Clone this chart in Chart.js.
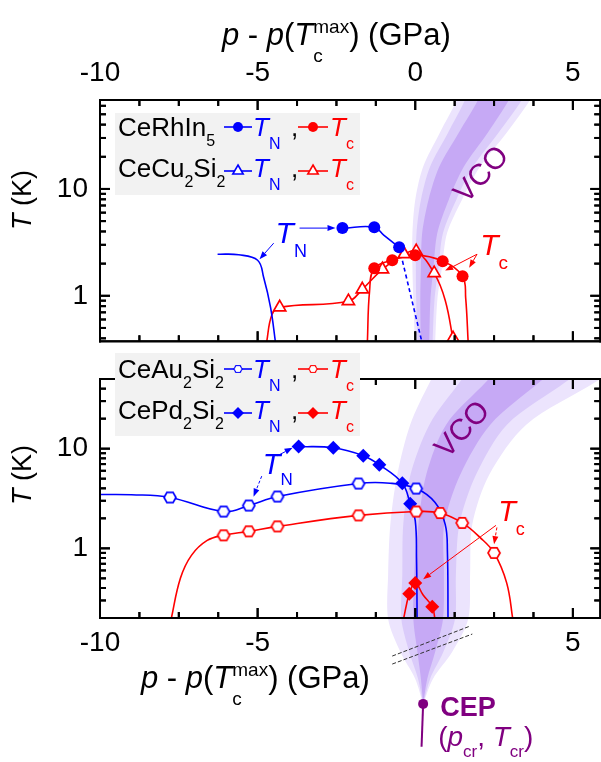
<!DOCTYPE html>
<html lang="en">
<head>
<meta charset="UTF-8">
<title>T vs p - p(Tc max)</title>
<script src="https://cdn.jsdelivr.net/npm/chart.js@4.4.1/dist/chart.umd.min.js"></script>
<style>
  body { margin: 0; background: #fff; }
  #wrap { position: relative; width: 601px; height: 762px; overflow: hidden; }
  canvas { position: absolute; left: 0; }
  #top { top: 0; }
  #bottom { top: 345px; }
</style>
</head>
<body>
<div id="wrap">
  <canvas id="top" width="609" height="350"></canvas>
  <canvas id="bottom" width="608" height="417"></canvas>
</div>
<script>
// ---- top panel: CeRhIn5 (circles) and CeCu2Si2 (triangles) ----
const rhTnP = [-2.31, -1.30, -0.51];
const rhTnT = [4.30, 4.39, 2.85];
const rhTcP = [-1.30, -0.73, 0.00, 0.87, 1.50];
const rhTcT = [1.81, 2.15, 2.40, 2.11, 1.52];
const cuTcP = [-4.30, -2.12, -1.68, -1.04, -0.35, 0.03, 0.60, 1.20];
const cuTcT = [0.78, 0.89, 1.15, 1.77, 2.45, 2.62, 1.63, 0.40];
// guide lines
const rhTnCurveP = [-2.31, -1.30, -1.00, -0.51];
const rhTnCurveT = [4.30, 4.39, 3.70, 2.85];
const rhTnDashP = [-0.51, 0.22];
const rhTnDashT = [2.85, 0.36];
const cuTnCurveP = [-6.27, -5.60, -5.00, -4.81, -4.59, -4.43];
const cuTnCurveT = [2.45, 2.42, 2.15, 1.49, 0.78, 0.36];
const rhTcCurveP = [-1.52, -1.45, -1.30, -0.73, 0.00, 0.87, 1.50, 1.60, 1.68];
const rhTcCurveT = [0.36, 1.10, 1.81, 2.15, 2.40, 2.11, 1.52, 0.95, 0.36];
const cuTcCurveP = [-4.72, -4.55, -4.30, -2.12, -1.68, -1.04, -0.35, 0.03, 0.60, 0.95, 1.22];
const cuTcCurveT = [0.36, 0.66, 0.78, 0.89, 1.15, 1.77, 2.45, 2.62, 1.63, 0.91, 0.36];
// VCO band (T, centre, half widths of the three shades)
const topBandT = [0.30, 0.91, 1.85, 3.86, 7.9, 16.1, 33.6, 68, 120];
const topBandP = [0.31, 0.32, 0.38, 0.46, 0.74, 1.15, 1.84, 2.48, 2.85];
const topHalfOuter = [0.31, 0.38, 0.47, 0.55, 0.74, 0.90, 1.06, 1.16, 1.20];
const topHalfMid = [0.23, 0.29, 0.36, 0.42, 0.56, 0.68, 0.80, 0.90, 0.93];
const topHalfInner = [0.13, 0.16, 0.20, 0.24, 0.32, 0.39, 0.46, 0.49, 0.52];

// ---- bottom panel: CeAu2Si2 (hexagons) and CePd2Si2 (diamonds) ----
const auTnP = [-7.78, -6.08, -5.28, -4.37, -1.80, 0.03];
const auTnT = [3.24, 2.34, 2.69, 3.31, 4.47, 3.98];
const auTcP = [-6.08, -5.28, -4.37, -1.80, 0.03, 0.79, 1.49, 2.50];
const auTcT = [1.35, 1.48, 1.66, 2.14, 2.34, 2.26, 1.80, 0.90];
const pdTnP = [-3.70, -2.60, -1.65, -1.14, -0.41, -0.16];
const pdTnT = [10.5, 10.2, 8.5, 6.9, 4.5, 2.8];
const pdTcP = [-0.19, 0.00, 0.54];
const pdTcT = [0.35, 0.45, 0.26];
const auTnCurveP = [-10.0, -9.0, -7.78, -6.08, -5.28, -4.37, -1.80, -0.80, 0.03, 0.63, 0.95, 1.02, 1.04];
const auTnCurveT = [3.47, 3.45, 3.24, 2.34, 2.69, 3.31, 4.47, 4.50, 3.98, 2.88, 1.74, 0.93, 0.19];
const pdTnCurveP = [-3.70, -2.60, -1.65, -1.14, -0.41, -0.16, 0.00, 0.04, 0.06];
const pdTnCurveT = [10.5, 10.2, 8.5, 6.9, 4.5, 2.8, 1.9, 0.8, 0.19];
const auTcCurveP = [-7.75, -7.45, -7.10, -6.60, -6.08, -5.28, -4.37, -1.80, 0.03, 0.79, 1.49, 2.05, 2.50, 2.90, 3.10];
const auTcCurveT = [0.19, 0.50, 0.85, 1.20, 1.35, 1.48, 1.66, 2.14, 2.34, 2.26, 1.80, 1.29, 0.90, 0.45, 0.19];
const pdTcCurveP = [-0.38, -0.19, 0.00, 0.25, 0.54, 0.63];
const pdTcCurveT = [0.19, 0.35, 0.45, 0.34, 0.26, 0.19];
const botBandT = [0.0275, 0.049, 0.091, 0.195, 0.55, 1.74, 5.5, 17.4, 46.8, 90];
const botBandP = [0.25, 0.28, 0.35, 0.41, 0.44, 0.51, 0.89, 1.68, 3.10, 4.00];
const botHalfOuter = [0, 0.28, 0.82, 1.27, 1.30, 1.30, 1.46, 1.84, 2.63, 3.00];
const botHalfMid = [0, 0.19, 0.54, 0.85, 0.85, 0.89, 1.04, 1.23, 1.68, 1.90];
const botHalfInner = [0, 0.10, 0.28, 0.47, 0.47, 0.41, 0.54, 0.70, 0.85, 0.95];
// critical end point
const cepP = [0.25];
const cepT = [0.0275];
const cepStemP = [0.25, 0.20];
const cepStemT = [0.0275, 0.0102];

(() => {
  const X_MIN = -10, X_MAX = 5.87, X_STEP = 1.25;
  const FONT = '"Liberation Sans", Arial, sans-serif';
  const BLUE = '#0000ff', RED = '#ff0000', PURPLE = '#800080';
  const BAND = ['#ece4fd', '#dacbfa', '#c6a9f5'];
  Chart.defaults.font.family = FONT;

  const pts = (ps, ts) => ps.map((p, i) => ({ x: p, y: ts[i] }));

  function hexImage(color, r, lw) {
    const c = document.createElement('canvas');
    const s = Math.ceil(2 * r + lw + 2);
    c.width = c.height = s;
    const g = c.getContext('2d');
    g.beginPath();
    for (let k = 0; k < 6; k++) {
      const a = k * Math.PI / 3;
      g.lineTo(s / 2 + r * Math.cos(a), s / 2 + r * Math.sin(a));
    }
    g.closePath();
    g.fillStyle = '#fff'; g.fill();
    g.lineWidth = lw; g.strokeStyle = color; g.stroke();
    return c;
  }
  const hexBlue = hexImage(BLUE, 6, 1.7);
  const hexRed = hexImage(RED, 6, 1.7);

  function bandSets(ts, mid, halves) {
    return halves.map((h, k) => {
      const left = ts.map((t, i) => ({ x: mid[i] - h[i], y: t }));
      const right = ts.map((t, i) => ({ x: mid[i] + h[i], y: t })).reverse();
      return {
        data: left.concat(right), fill: 'shape', backgroundColor: BAND[k],
        borderColor: 'rgba(0,0,0,0)', borderWidth: 1, pointRadius: 0,
        tension: 0.3, capBezierPoints: false, order: 10 - k, isBand: true
      };
    });
  }
  const curve = (ps, ts, color, dash) => ({
    data: pts(ps, ts), borderColor: color, borderWidth: 1.6, pointRadius: 0,
    tension: 0.4, fill: false, borderDash: dash || [], order: 3
  });
  const marks = (ps, ts, color, style, filled, r) => ({
    data: pts(ps, ts), showLine: false, pointStyle: style, pointRadius: r,
    pointBackgroundColor: filled ? color : '#fff', pointBorderColor: color,
    pointBorderWidth: filled ? 0 : 1.7, order: 1
  });

  function axes(pos, yMin, yMax, xHeight, xPad) {
    return {
      x: {
        type: 'linear', position: pos, min: X_MIN, max: X_MAX, z: 1,
        grid: { display: false, drawTicks: false }, border: { display: true, color: '#000', width: 2 },
        ticks: {
          stepSize: X_STEP, includeBounds: false, autoSkip: false, maxRotation: 0,
          padding: xPad, color: '#000', font: { size: 28 },
          callback: v => (v % 5 === 0 ? String(v) : '')
        },
        afterFit: s => { s.height = xHeight; s.paddingLeft = 0; s.paddingRight = 0; }
      },
      y: {
        type: 'logarithmic', min: yMin, max: yMax,
        grid: { display: false, drawTicks: false }, border: { display: true, color: '#000', width: 2 },
        ticks: {
          autoSkip: false, padding: 12, color: '#000', font: { size: 28 },
          callback: v => (v === 1 || v === 10 ? String(v) : '')
        },
        afterFit: s => { s.width = 100; s.paddingTop = 0; s.paddingBottom = 0; }
      }
    };
  }

  // text with italic / sub / superscript pieces: [text, style, sizeFactor, baselineShift]
  function richText(ctx, x, y, size, color, segs, measureOnly) {
    let cx = x;
    ctx.save();
    ctx.fillStyle = color; ctx.textAlign = 'left'; ctx.textBaseline = 'alphabetic';
    for (const [t, st = '', k = 1, dy = 0] of segs) {
      ctx.font = (st ? st + ' ' : '') + Math.round(size * k) + 'px ' + FONT;
      if (Array.isArray(t)) {
        t.forEach((s, j) => { if (!measureOnly) ctx.fillText(s, cx, y + dy[j] * size); });
        cx += Math.max(...t.map(s => ctx.measureText(s).width));
      } else {
        if (!measureOnly) ctx.fillText(t, cx, y + dy * size);
        cx += ctx.measureText(t).width;
      }
    }
    ctx.restore();
    return cx - x;
  }

  const xTitle = [['p', 'italic'], [' - '], ['p', 'italic'], ['('], ['T', 'italic'],
    [['max', 'c'], '', 0.62, [-0.4, 0.55]], [') (GPa)']];

  function yTitleText(ctx, x, cy) {
    const segs = [['T', 'italic'], [' (K)']];
    ctx.save();
    ctx.translate(x, cy);
    ctx.rotate(-Math.PI / 2);
    const w = richText(ctx, 0, 0, 27, '#000', segs, true);
    richText(ctx, -w / 2, 0, 27, '#000', segs);
    ctx.restore();
  }

  function vcoText(ctx, cx, cy) {
    ctx.save();
    ctx.translate(cx, cy);
    ctx.rotate(-47 * Math.PI / 180);
    ctx.font = '30px ' + FONT;
    ctx.fillStyle = PURPLE; ctx.textAlign = 'center'; ctx.textBaseline = 'middle';
    ctx.fillText('VCO', 0, 0);
    ctx.restore();
  }

  function arrowLine(ctx, a, b, color, dashed) {
    const [x1, y1] = a, [x2, y2] = b;
    const ang = Math.atan2(y2 - y1, x2 - x1), h = 8, w = 3;
    const c = Math.cos(ang), s = Math.sin(ang);
    ctx.save();
    ctx.strokeStyle = color; ctx.fillStyle = color; ctx.lineWidth = 1;
    if (dashed) ctx.setLineDash([3, 2]);
    ctx.beginPath(); ctx.moveTo(x1, y1); ctx.lineTo(x2 - h * c, y2 - h * s); ctx.stroke();
    ctx.setLineDash([]);
    ctx.beginPath();
    ctx.moveTo(x2, y2);
    ctx.lineTo(x2 - h * c + w * s, y2 - h * s - w * c);
    ctx.lineTo(x2 - h * c - w * s, y2 - h * s + w * c);
    ctx.closePath(); ctx.fill();
    ctx.restore();
  }

  function legendSample(ctx, x1, x2, y, color, mark) {
    ctx.save();
    ctx.strokeStyle = color; ctx.fillStyle = mark.filled ? color : '#fff'; ctx.lineWidth = 1.6;
    ctx.beginPath(); ctx.moveTo(x1, y); ctx.lineTo(x2, y); ctx.stroke();
    const xm = (x1 + x2) / 2;
    if (mark.img) {
      const img = color === BLUE ? hexBlue : hexRed;
      ctx.drawImage(img, xm - 5.5, y - 5.5, 11, 11);
    } else {
      Chart.helpers.drawPoint(ctx, { pointStyle: mark.style, radius: mark.r, rotation: 0, borderWidth: mark.filled ? 0 : 1.6 }, xm, y);
    }
    ctx.restore();
  }

  function legendRow(ctx, base, ly, name, mark) {
    richText(ctx, 118, base, 26, '#000', name);
    legendSample(ctx, 224, 252, ly, BLUE, mark);
    richText(ctx, 253, base, 26, BLUE, [['T', 'italic'], ['N', '', 0.6, 0.5]]);
    richText(ctx, 291, base, 26, '#000', [[',']]);
    legendSample(ctx, 298, 328, ly, RED, mark);
    richText(ctx, 330, base, 26, RED, [['T', 'italic'], ['c', '', 0.62, 0.5]]);
  }

  // box round the plot with inward ticks on all four sides
  function plotBox(chart) {
    const ctx = chart.ctx, a = chart.chartArea;
    const xs = chart.scales.x, ys = chart.scales.y;
    ctx.save();
    ctx.fillStyle = '#000';
    ctx.fillRect(a.left - 1, a.top - 1, a.right - a.left + 2, 2);
    ctx.fillRect(a.left - 1, a.bottom - 1, a.right - a.left + 2, 2);
    ctx.fillRect(a.left - 1, a.top - 1, 2, a.bottom - a.top + 2);
    ctx.fillRect(a.right - 1, a.top - 1, 2, a.bottom - a.top + 2);
    for (let v = X_MIN; v <= X_MAX + 1e-9; v += X_STEP) {
      const px = xs.getPixelForValue(v), len = v % 5 === 0 ? 10 : 6;
      ctx.fillRect(px - 1, a.top, 2, len);
      ctx.fillRect(px - 1, a.bottom - len, 2, len);
    }
    const e0 = Math.floor(Math.log10(ys.min)), e1 = Math.ceil(Math.log10(ys.max));
    for (let e = e0; e <= e1; e++) {
      for (let s = 1; s <= 9; s++) {
        const v = s * Math.pow(10, e);
        if (v < ys.min || v > ys.max) continue;
        const py = ys.getPixelForValue(v), len = s === 1 ? 10 : 6;
        ctx.fillRect(a.left, py - 1, len, 2);
        ctx.fillRect(a.right - len, py - 1, len, 2);
      }
    }
    ctx.restore();
  }

  const at = (chart, p, t) => [chart.scales.x.getPixelForValue(p), chart.scales.y.getPixelForValue(t)];

  // band part that continues below the bottom axis down to the CEP
  const wedgePlugin = {
    id: 'wedge',
    beforeDatasetsDraw(chart) {
      const { ctx, chartArea: a } = chart;
      chart.data.datasets.forEach((ds, i) => {
        if (!ds.isBand) return;
        const line = chart.getDatasetMeta(i).dataset;
        line.updateControlPoints(a, 'x');
        ctx.save();
        ctx.beginPath();
        ctx.rect(a.left, a.bottom, a.right - a.left, chart.height - a.bottom);
        ctx.clip();
        ctx.beginPath();
        line.path(ctx);
        ctx.closePath();
        ctx.fillStyle = ds.backgroundColor;
        ctx.fill();
        ctx.restore();
      });
    }
  };

  const topDeco = {
    id: 'topDeco',
    afterDatasetsDraw(chart) { plotBox(chart); },
    afterDraw(chart) {
      const ctx = chart.ctx;
      richText(ctx, 222, 45, 31, '#000', xTitle);
      yTitleText(ctx, 31, 200);
      vcoText(ctx, 482, 175);
      const tn = at(chart, -4.43, 3.11);
      richText(ctx, tn[0], tn[1], 30, BLUE, [['T', 'italic'], ['N', '', 0.6, 0.45]]);
      arrowLine(ctx, at(chart, -3.67, 4.30), at(chart, -2.53, 4.30), BLUE);
      arrowLine(ctx, at(chart, -4.49, 3.11), at(chart, -4.94, 2.20), BLUE);
      const tc = at(chart, 2.06, 2.40);
      richText(ctx, tc[0], tc[1], 30, RED, [['T', 'italic'], ['c', '', 0.62, 0.45]]);
      arrowLine(ctx, at(chart, 1.96, 2.45), at(chart, 0.95, 1.72), RED);
      arrowLine(ctx, at(chart, 1.96, 2.45), at(chart, 1.71, 1.83), RED);
      plotBox(chart);
      ctx.save();
      ctx.fillStyle = '#f2f2f2';
      ctx.fillRect(115, 113, 245, 82);
      ctx.restore();
      legendRow(ctx, 136, 127, [['CeRhIn'], ['5', '', 0.62, 0.4]], { style: 'circle', r: 5, filled: true });
      legendRow(ctx, 177, 171, [['CeCu'], ['2', '', 0.62, 0.4], ['Si'], ['2', '', 0.62, 0.4]], { style: 'triangle', r: 6, filled: false });
    }
  };

  const bottomDeco = {
    id: 'bottomDeco',
    afterDatasetsDraw(chart) { plotBox(chart); },
    afterDraw(chart) {
      const ctx = chart.ctx;
      richText(ctx, 141, 343, 31, '#000', xTitle);
      yTitleText(ctx, 31, 130);
      vcoText(ctx, 463, 85);
      const tn = at(chart, -4.84, 5.6);
      richText(ctx, tn[0], tn[1], 29, BLUE, [['T', 'italic'], ['N', '', 0.6, 0.4]]);
      arrowLine(ctx, at(chart, -4.37, 8.5), at(chart, -3.89, 10.2), BLUE);
      arrowLine(ctx, at(chart, -4.87, 5.3), at(chart, -5.13, 3.3), BLUE, true);
      const tc = at(chart, 2.63, 1.86);
      richText(ctx, tc[0], tc[1], 29, RED, [['T', 'italic'], ['c', '', 0.62, 0.45]]);
      arrowLine(ctx, at(chart, 2.56, 1.70), at(chart, 0.25, 0.49), RED);
      arrowLine(ctx, at(chart, 2.59, 1.62), at(chart, 2.50, 1.10), RED, true);
      // axis break marks
      ctx.save();
      ctx.strokeStyle = '#333'; ctx.lineWidth = 1; ctx.setLineDash([4, 2]);
      [[[-0.73, 0.083], [1.74, 0.166]], [[-0.73, 0.069], [1.81, 0.138]]].forEach(([p, q]) => {
        const a = at(chart, p[0], p[1]), b = at(chart, q[0], q[1]);
        ctx.beginPath(); ctx.moveTo(a[0], a[1]); ctx.lineTo(b[0], b[1]); ctx.stroke();
      });
      ctx.restore();
      // critical end point marker (outside the plot area)
      const c = at(chart, cepP[0], cepT[0]);
      ctx.save();
      ctx.fillStyle = PURPLE;
      ctx.beginPath(); ctx.arc(c[0], c[1], 5, 0, 2 * Math.PI); ctx.fill();
      ctx.restore();
      richText(ctx, c[0] + 17, c[1] + 12, 27, PURPLE, [['CEP', 'bold']]);
      richText(ctx, c[0] + 15, c[1] + 42, 28, PURPLE, [['('], ['p', 'italic'], ['cr', '', 0.6, 0.4],
        [', '], ['T', 'italic'], ['cr', '', 0.6, 0.4], [')']]);
      plotBox(chart);
      // legend sits on top of the upper frame line
      ctx.save();
      ctx.fillStyle = '#f2f2f2';
      ctx.fillRect(115, 8, 245, 83);
      ctx.restore();
      legendRow(ctx, 33, 24, [['CeAu'], ['2', '', 0.62, 0.4], ['Si'], ['2', '', 0.62, 0.4]], { img: true, filled: false });
      legendRow(ctx, 74, 68, [['CePd'], ['2', '', 0.62, 0.4], ['Si'], ['2', '', 0.62, 0.4]], { style: 'rectRot', r: 6, filled: true });
    }
  };

  const common = { responsive: false, animation: false, events: [],
    plugins: { legend: { display: false }, tooltip: { enabled: false } } };

  new Chart(document.getElementById('top'), {
    type: 'line',
    data: {
      datasets: [
        marks(rhTnP, rhTnT, BLUE, 'circle', true, 6),
        marks(rhTcP, rhTcT, RED, 'circle', true, 6),
        marks(cuTcP, cuTcT, RED, 'triangle', false, 7),
        curve(rhTnCurveP, rhTnCurveT, BLUE),
        curve(rhTnDashP, rhTnDashT, BLUE, [4, 3]),
        curve(cuTnCurveP, cuTnCurveT, BLUE),
        curve(rhTcCurveP, rhTcCurveT, RED),
        curve(cuTcCurveP, cuTcCurveT, RED),
        ...bandSets(topBandT, topBandP, [topHalfOuter, topHalfMid, topHalfInner])
      ]
    },
    options: { ...common,
      layout: { padding: { left: 0, right: 1, top: 0, bottom: 0 } },
      scales: axes('top', 0.375, 68, 100, 10)
    },
    plugins: [topDeco]
  });

  new Chart(document.getElementById('bottom'), {
    type: 'line',
    data: {
      datasets: [
        { data: pts(cepStemP, cepStemT), borderColor: PURPLE, borderWidth: 2, pointRadius: 0,
          clip: false, order: 0 },
        marks(auTnP, auTnT, BLUE, hexBlue, false, 6),
        marks(auTcP, auTcT, RED, hexRed, false, 6),
        marks(pdTnP, pdTnT, BLUE, 'rectRot', true, 7),
        marks(pdTcP, pdTcT, RED, 'rectRot', true, 7),
        curve(auTnCurveP, auTnCurveT, BLUE),
        curve(pdTnCurveP, pdTnCurveT, BLUE),
        curve(auTcCurveP, auTcCurveT, RED),
        curve(pdTcCurveP, pdTcCurveT, RED),
        ...bandSets(botBandT, botBandP, [botHalfOuter, botHalfMid, botHalfInner])
      ]
    },
    options: { ...common,
      layout: { padding: { left: 0, right: 1, top: 34, bottom: 0 } },
      scales: axes('bottom', 0.2, 50, 144, 8)
    },
    plugins: [wedgePlugin, bottomDeco]
  });
})();
</script>
</body>
</html>
